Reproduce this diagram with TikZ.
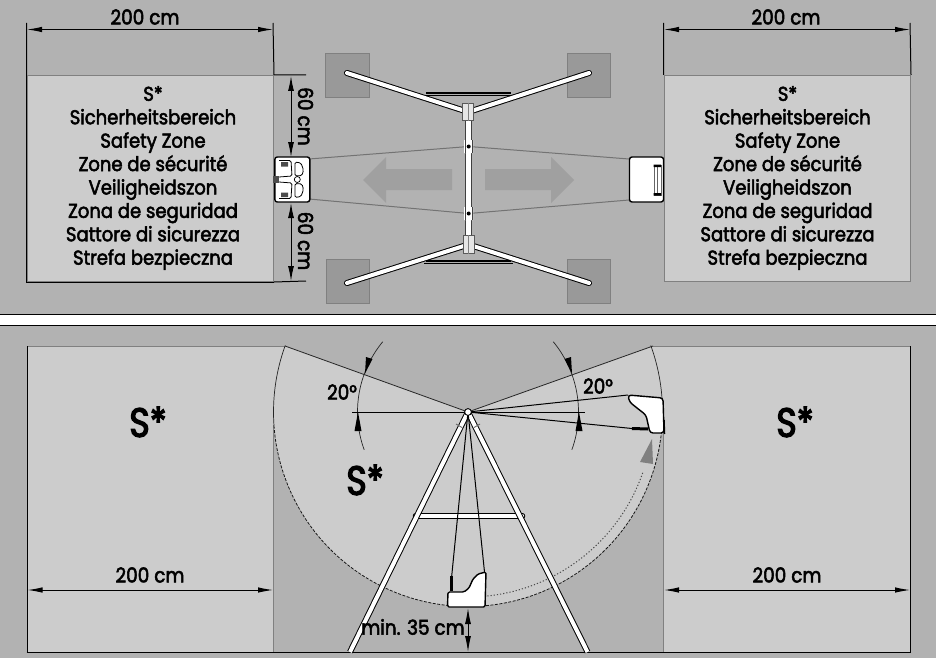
\documentclass[tikz,border=0pt]{standalone}
\usepackage{fontspec}
\setmainfont{Poppins}[FakeBold=2.6,FakeStretch=0.9]
\newfontfamily\heavyfont{Poppins}[FakeBold=3,FakeStretch=0.85]
\usetikzlibrary{arrows.meta}
\definecolor{bgc}{HTML}{B2B2B2}
\definecolor{zone}{HTML}{CCCCCC}
\definecolor{edge}{HTML}{808080}
\definecolor{padc}{HTML}{999999}
\definecolor{arr}{HTML}{A0A0A0}
\tikzset{
 x=1pt,y=-1pt,
 dim/.style={draw=black,line width=1pt,{Latex[length=15pt,width=5.5pt]}-{Latex[length=15pt,width=5.5pt]}},
 vdim/.style={draw=black,line width=1pt,{Latex[length=15pt,width=6pt]}-{Latex[length=15pt,width=6pt]}},
 ext/.style={draw=black,line width=1pt},
 zonebox/.style={fill=zone,draw=edge,line width=1pt,inner sep=0pt,anchor=north west,minimum width=246.5pt,minimum height=206pt},
 lbl/.style={inner sep=0pt,font=\fontsize{20.5}{22}\selectfont,text=black},
 zonetext/.style={inner sep=0pt,align=center,font=\fontsize{20}{23.4}\selectfont},
 bigS/.style={inner sep=0pt,font=\heavyfont\fontsize{41}{44}\selectfont},
 pad/.style={fill=padc,draw=edge,line width=.8pt,inner sep=0pt,minimum width=43.5pt,minimum height=44pt},
 tube/.style={draw=black,line width=6pt},
 tubein/.style={draw=white,line width=4pt},
 hub/.style={fill=white!90!black,draw=black!65,line width=1pt,minimum width=11pt,minimum height=17.5pt,inner sep=0pt},
 cord/.style={draw=black!55,line width=1pt},
 seat/.style={fill=white,draw=black,line width=1.4pt,rounded corners=2.5pt},
 fine/.style={draw=black,line width=.8pt},
}
\begin{document}
\begin{tikzpicture}
\useasboundingbox (0,0) rectangle (936,658);
\fill[bgc] (0,0) rectangle (936,658);
\fill[white] (0,314) rectangle (936,326);
\draw[black,line width=1.4pt] (0,314.3) -- (936,314.3) (0,325.7) -- (936,325.7);
% --- top panel: zones
\node[zonebox] (zl) at (26.5,75) {};
\node[zonebox] (zr) at (663.5,75) {};
\draw[black,line width=1pt] (zl.north west) -- (zl.south west) -- (zl.south east);
\node[zonetext] (tl) at (153,178) {S*\\Sicherheitsbereich\\Safety Zone\\Zone de sécurité\\Veiligheidszon\\Zona de seguridad\\Sattore di sicurezza\\Strefa bezpieczna};
\node[zonetext] (tr) at (787.5,178) {S*\\Sicherheitsbereich\\Safety Zone\\Zone de sécurité\\Veiligheidszon\\Zona de seguridad\\Sattore di sicurezza\\Strefa bezpieczna};
% --- top panel: dimensions
\coordinate (la) at (26.5,23); \coordinate (lb) at (273,23);
\coordinate (ra) at (663.5,23); \coordinate (rb) at (910,23);
\draw[ext] (la) -- (zl.north west) (lb) -- (zl.north east) (ra) -- (zr.north west) (rb) -- (zr.north east);
\coordinate (da) at (27,29.5); \coordinate (db) at (273,29.5);
\coordinate (dc) at (664,29.5); \coordinate (dd) at (910,29.5);
\draw[dim] (da) -- (db);
\draw[dim] (dc) -- (dd);
\node[lbl] (w1) at (145,17) {200 cm};
\node[lbl] (w2) at (786,17) {200 cm};
\coordinate (e1) at (306,75); \coordinate (e2) at (306,281);
\draw[ext] (zl.north east) -- (e1) (zl.south east) -- (e2);
% --- pads
\node[pad] (p1) at (347.6,75) {};
\node[pad] (p2) at (588.7,75) {};
\node[pad] (p3) at (348,281.5) {};
\node[pad] (p4) at (589,281.5) {};
% --- plan of the swing
\draw[black,line width=2pt] (426,93) -- (511,93) (426,260.5) -- (511,260.5);
\draw[black,line width=.6pt] (424,95.2) -- (513,95.2) (424,263) -- (513,263);
\coordinate (hu) at (468.3,112); \coordinate (hd) at (468.5,244.5);
\foreach \s/\w in {tube/6,tubein/4}{
 \draw[\s,line cap=round] (347,73) -- (hu) -- (589,73);
 \draw[\s,line cap=round] (347,283) -- (hd) -- (589,283);
}
\draw[black!75,line width=7pt] (468.7,112) -- (468.7,245);
\draw[white,line width=5pt] (468.7,112) -- (468.7,245);
\node[hub] (h1) at (hu) {};
\node[hub] (h2) at (hd) {};
\draw[black!50,line width=.8pt] (h1.north) -- (h1.south) (h2.north) -- (h2.south);
\coordinate (c1) at (468.7,146.5); \coordinate (c2) at (468.7,213.5);
\draw[cord] (309,159) -- (c1) -- (629,159);
\draw[cord] (309,199) -- (c2) -- (629,200);
\fill[white] (464,140) rectangle (473,153) (464,207) rectangle (473,220);
\draw[black!75,line width=1pt] (465.2,140) -- (465.2,153) (472.2,140) -- (472.2,153) (465.2,207) -- (465.2,220) (472.2,207) -- (472.2,220);
\fill[black] (c1) circle[radius=2] (c2) circle[radius=2];
% --- big arrows
\fill[arr] (452,169) -- (386,169) -- (386,157) -- (363,180) -- (386,203) -- (386,190) -- (452,190) -- cycle;
\fill[arr] (485,169) -- (551,169) -- (551,157) -- (574,180) -- (551,203) -- (551,190) -- (485,190) -- cycle;
% --- seats in plan
\node[seat,inner sep=0pt,minimum width=35pt,minimum height=45pt] (s1) at (292.3,179.5) {};
\node[seat,inner sep=0pt,minimum width=34pt,minimum height=45pt] (s2) at (646.5,179.5) {};
\draw[black,line width=.8pt,rounded corners=1.5pt]
 (295,162) -- (301,163) -- (303.5,170) -- (302,175.5) -- (295,176) -- cycle
 (295,197.5) -- (301,196.5) -- (303.5,189.5) -- (302,184) -- (295,183.5) -- cycle
 (279,160.5) -- (291,160.5) -- (292,176) -- (279,177)
 (279,198.5) -- (291,198.5) -- (292,183) -- (279,182);
\draw[black,line width=.7pt] (297.3,179.5) circle[radius=3];
\fill[black!70] (281,162) rectangle (288,166.5) (281,192.5) rectangle (288,197);
\fill[black!70] (273,176) rectangle (279,183);
\draw[black!60,line width=.6pt] (654,165) rectangle (661.5,195) (657.5,165) -- (657.5,195);
\fill[black] (653.5,164.5) rectangle (661,167) (653.5,193) rectangle (661,195.5);
% --- dimension arrows at the seat
\coordinate (v1) at (291,76); \coordinate (v2) at (291,157);
\coordinate (v3) at (291,203); \coordinate (v4) at (291,281);
\draw[vdim] (v1) -- (v2);
\draw[vdim] (v3) -- (v4);
\node[lbl,rotate=-90] (h60a) at (305.5,116.5) {60 cm};
\node[lbl,rotate=-90] (h60b) at (305.5,241) {60 cm};
% --- bottom panel
\fill[zone] (27,346) -- (285,346) -- (468,412) -- (653,346) -- (910,346) -- (910,652) -- (663.5,652) -- (663.5,412)
 -- plot[domain=0:180,samples=121] ({468+194.5*cos(\x)},{412+194.5*sin(\x)}) -- (273.5,652) -- (27,652) -- cycle;
\draw[edge,line width=1pt] (27,346) -- (285,346) (653,346) -- (910,346) (273.5,425) -- (273.5,652) (663.5,425) -- (663.5,652);
\draw[black,line width=1pt] (27,346) -- (27,652.3) (910,346) -- (910,652.3);
\draw[black,line width=1.2pt] (26.5,652.3) -- (910.5,652.3);
\coordinate (pv) at (468,412);
\coordinate (al) at (285,346); \coordinate (ar) at (653,346);
\draw[fine,draw=black!85] (al) -- (pv) -- (ar);
\draw[black!85,line width=.7pt] plot[domain=200:176,samples=20] ({468+194.5*cos(\x)},{412+194.5*sin(\x)});
\draw[black!85,line width=.7pt] plot[domain=-20:6,samples=20] ({468+194.5*cos(\x)},{412+194.5*sin(\x)});
\draw[black!90,line width=.8pt,dash pattern=on 3pt off 1.5pt] plot[domain=176:90,samples=80] ({468+194.5*cos(\x)},{412+194.5*sin(\x)});
\draw[black!90,line width=.8pt,dash pattern=on 3pt off 1.5pt] plot[domain=90:6,samples=80] ({468+194.5*cos(\x)},{412+194.5*sin(\x)});
\draw[black!70,line width=1pt,dash pattern=on 1.2pt off 2pt] plot[domain=84:19,samples=60] ({468+185*cos(\x)},{412+185*sin(\x)});
\fill[black!50] (652,439) -- (640,462) -- (653,464) -- cycle;
% angle arcs
\draw[black!85,line width=.7pt] plot[domain=219.5:160,samples=30] ({468+110.5*cos(\x)},{412+110.5*sin(\x)});
\draw[black!85,line width=.7pt] plot[domain=-39.5:20,samples=30] ({468+110.5*cos(\x)},{412+110.5*sin(\x)});
\fill[black] (365,373.5) -- (366,357) -- (372.5,359) -- cycle;
\fill[black] (358,412) -- (354.5,431) -- (361.5,431) -- cycle;
\fill[black] (572,373.5) -- (571,357) -- (564.5,359) -- cycle;
\fill[black] (579,412) -- (575.5,431) -- (582.5,431) -- cycle;
\coordinate (hl) at (352,412); \coordinate (hr) at (585,412);
\draw[black,line width=1pt] (hl) -- (hr);
\node[lbl] (a20l) at (342,392) {20°};
\node[lbl] (a20r) at (598,386) {20°};
% cords to seats
\coordinate (sa) at (451.7,576); \coordinate (sb) at (484.5,572);
\coordinate (sc) at (628,395); \coordinate (sd) at (632,428.5);
\draw[black,line width=1pt] (pv) -- (sc) (pv) -- (sd);
% A-frame
\coordinate (fl) at (350,652); \coordinate (fr) at (587.5,652);
\coordinate (bl) at (415.5,516); \coordinate (br) at (522.5,516);
\draw[black,line width=5.5pt,line cap=round] (bl) -- (br);
\draw[white,line width=3.2pt,line cap=round] (bl) -- (br);
\draw[tube] (pv) -- (fl) (pv) -- (fr);
\draw[tubein] (pv) -- (fl) (pv) -- (fr);
\draw[black!60,line width=.9pt] (456,424) -- (462,427.5) (480,424) -- (474,427.5);
\draw[black,line width=1pt] (pv) -- (sa) (pv) -- (sb);
\fill[white] (pv) circle[radius=3.4];
\draw[black,line width=.9pt] (pv) circle[radius=3.4];
% side seats
\draw[seat,fill=white,rounded corners=1.5pt] (447.5,607) -- (448,592) -- (464,592) -- (469,588) -- (473,579) -- (478,574) -- (486,572) -- (485,607) -- cycle;
\draw[black,line width=3pt] (sa) -- (451.7,591);
\draw[seat,rounded corners=3pt] (628,395) -- (663,398) -- (664,433) -- (650,433) -- (646,415) -- (637,408) -- (629.5,402) -- cycle;
\draw[black,line width=3pt] (sd) -- (648,429);
\draw[black,line width=1.5pt] (664,420) -- (664.5,434);
% bottom dims
\coordinate (f1) at (27.5,590); \coordinate (f2) at (273,590);
\coordinate (f3) at (664,590); \coordinate (f4) at (910,590);
\draw[dim] (f1) -- (f2);
\draw[dim] (f3) -- (f4);
\node[lbl] (w3) at (150,575) {200 cm};
\node[lbl] (w4) at (787,575) {200 cm};
\coordinate (m1) at (468,608); \coordinate (m2) at (468,652);
\draw[vdim,{Latex[length=16pt,width=6pt]}-{Latex[length=16pt,width=6pt]}] (m1) -- (m2);
\node[lbl] (m35) at (413,627) {min. 35 cm};
\node[bigS] (S1) at (148,422) {S*};
\node[bigS] (S2) at (365,480) {S*};
\node[bigS] (S3) at (795,422) {S*};
\end{tikzpicture}
\end{document}
